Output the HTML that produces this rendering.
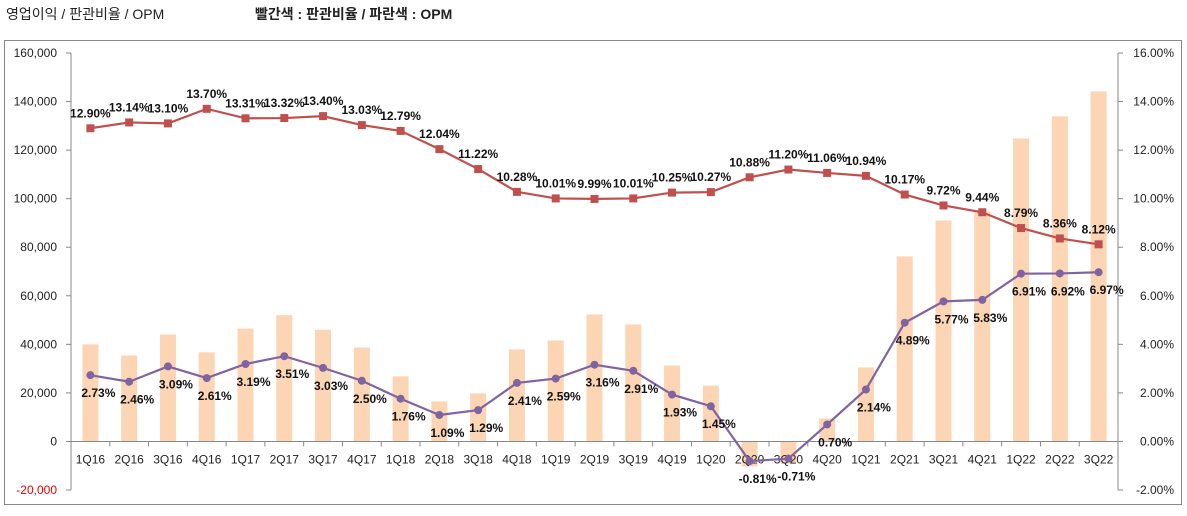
<!DOCTYPE html>
<html><head><meta charset="utf-8"><style>
body{margin:0;background:#fff;font-family:"Liberation Sans","Noto Sans CJK KR",sans-serif;}
svg text{font-family:"Liberation Sans","Noto Sans CJK KR",sans-serif;}
</style></head><body>
<svg id="c" width="1187" height="511">
<text x="6" y="19" font-size="14" fill="#222">영업이익 / 판관비율 / OPM</text>
<text x="255" y="19" font-size="14" font-weight="bold" fill="#222">빨간색 : 판관비율 / 파란색 : OPM</text>
<rect x="4.5" y="40.5" width="1177" height="464" fill="none" stroke="#888"/>
<g id="g"></g>
</svg>
<script>
const categories=["1Q16","2Q16","3Q16","4Q16","1Q17","2Q17","3Q17","4Q17","1Q18","2Q18","3Q18","4Q18","1Q19","2Q19","3Q19","4Q19","1Q20","2Q20","3Q20","4Q20","1Q21","2Q21","3Q21","4Q21","1Q22","2Q22","3Q22"];
const profit=[40000,35400,44000,36700,46500,52000,46000,38700,26800,16500,19800,37900,41600,52300,48200,31300,23000,-10300,-9200,9500,30500,76200,91000,94700,124800,133900,144200];
const sgaRatio=[12.90,13.14,13.10,13.70,13.31,13.32,13.40,13.03,12.79,12.04,11.22,10.28,10.01,9.99,10.01,10.25,10.27,10.88,11.20,11.06,10.94,10.17,9.72,9.44,8.79,8.36,8.12];
const opm=[2.73,2.46,3.09,2.61,3.19,3.51,3.03,2.50,1.76,1.09,1.29,2.41,2.59,3.16,2.91,1.93,1.45,-0.81,-0.71,0.70,2.14,4.89,5.77,5.83,6.91,6.92,6.97];
const leftTicks=[-20000,0,20000,40000,60000,80000,100000,120000,140000,160000];
const rightTicks=[-2,0,2,4,6,8,10,12,14,16];
const L=71,R=1118,T=53,B=490;
const band=(R-L)/categories.length;
const x=i=>L+band*(i+0.5);
const yL=v=>B-(v+20000)/180000*(B-T);
const yR=v=>B-(v+2)/18*(B-T);
const g=document.getElementById('g');
const NS='http://www.w3.org/2000/svg';
function el(t,a,txt){const e=document.createElementNS(NS,t);for(const k in a)e.setAttribute(k,a[k]);if(txt!==undefined)e.textContent=txt;g.appendChild(e);return e;}
// axes
let a=el('line',{x1:L,y1:T,x2:L,y2:B,stroke:'#888'});


a=el('line',{x1:R,y1:T,x2:R,y2:B,stroke:'#888'});


leftTicks.forEach(v=>{const y=yL(v);el('line',{x1:L-5,y1:y,x2:L,y2:y,stroke:'#888'});
const t=el('text',{x:57,y:y+4,'font-size':12,'text-anchor':'end',fill:v<0?'#e00':'#222'},v.toLocaleString('en-US'));

});
rightTicks.forEach(v=>{const y=yR(v);el('line',{x1:R,y1:y,x2:R+5,y2:y,stroke:'#888'});
const t=el('text',{x:1174,y:y+4,'font-size':12,'text-anchor':'end',fill:'#222'},v.toFixed(2)+'%');

});
// bars
profit.forEach((v,i)=>{const y0=yL(0),y1=yL(v);const r=el('rect',{x:x(i)-8,y:Math.min(y0,y1),width:16,height:Math.abs(y1-y0),fill:'#fcd5b4'});

});
// zero axis
a=el('line',{x1:L,y1:yL(0),x2:R,y2:yL(0),stroke:'#888'});


categories.forEach((c,i)=>{const xx=L+band*i;el('line',{x1:xx,y1:yL(0),x2:xx,y2:yL(0)+5,stroke:'#888'});
const t=el('text',{x:x(i),y:yL(0)+22,'font-size':12,'text-anchor':'middle',fill:'#222'},c);

});
el('line',{x1:R,y1:yL(0),x2:R,y2:yL(0)+5,stroke:'#888'});
// lines
function series(data,color,name,marker,dy){
 const p=el('polyline',{points:data.map((v,i)=>x(i)+','+yR(v)).join(' '),fill:'none',stroke:color,'stroke-width':2.2});
 
 
 data.forEach((v,i)=>{let m;
  if(marker==='sq')m=el('rect',{x:x(i)-4,y:yR(v)-4,width:8,height:8,fill:color});
  else m=el('circle',{cx:x(i),cy:yR(v),r:4,fill:color});
  
  
  const t=el('text',{x:x(i)+(marker==='sq'?0:8),y:yR(v)+dy,'font-size':12,'font-weight':'bold','text-anchor':'middle',fill:'#111'},v.toFixed(2)+'%');
  
  });
}
series(sgaRatio,'#c0504d','sga-ratio','sq',-11);
series(opm,'#8064a2','opm','ci',22);
</script>
</body></html>
